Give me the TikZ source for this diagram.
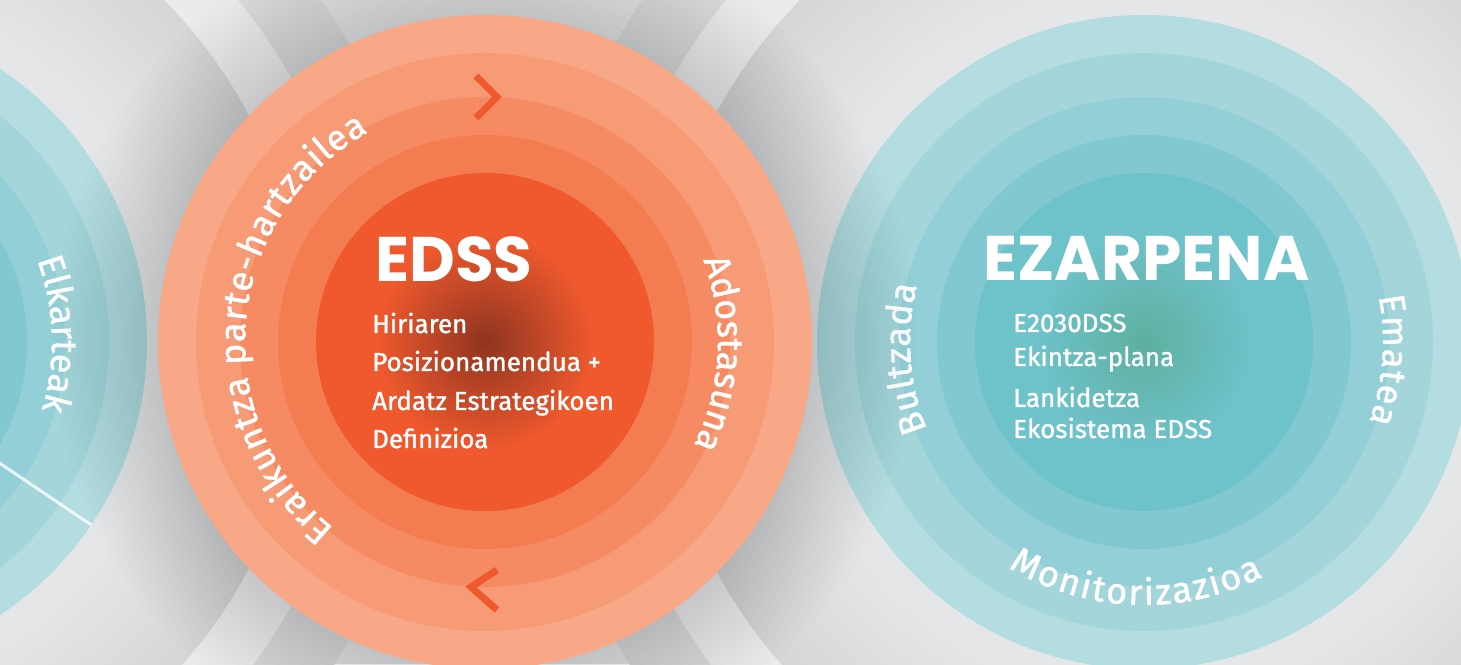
\documentclass[tikz,border=0pt]{standalone}
\usepackage{fontspec}
\setmainfont{Fira Sans}
\newfontfamily\medfont{Fira Sans}[FakeBold=1.2]
\newfontfamily\headfont{Poppins}
\usetikzlibrary{calc,decorations.text}

\definecolor{bggray}{HTML}{E5E6E8}
\definecolor{halodark}{HTML}{DBDCDE}
\definecolor{halolight}{HTML}{EBEBED}
\definecolor{haloshade}{HTML}{D5D6D8}
\definecolor{o1}{HTML}{F8A886}
\definecolor{o2}{HTML}{F79A76}
\definecolor{o3}{HTML}{F68B63}
\definecolor{o4}{HTML}{F47C51}
\definecolor{o5}{HTML}{EF592D}
\definecolor{odark}{HTML}{8E3420}
\definecolor{t1}{HTML}{B3DDE1}
\definecolor{t2}{HTML}{A3D5DB}
\definecolor{t3}{HTML}{93CFD6}
\definecolor{t4}{HTML}{82C8D0}
\definecolor{t5}{HTML}{6EC2CA}
\definecolor{tgreen}{HTML}{5DB09F}

\pgfdeclareradialshading{edsscore}{\pgfpoint{0bp}{0bp}}{color(0bp)=(odark); color(16bp)=(o5); color(25bp)=(o5); color(50bp)=(o5)}
\pgfdeclareradialshading{ezcore}{\pgfpoint{0bp}{0bp}}{color(0bp)=(tgreen); color(16bp)=(t5); color(25bp)=(t5); color(50bp)=(t5)}
\pgfdeclareradialshading{halo}{\pgfpoint{0bp}{0bp}}{color(0bp)=(bggray); color(18bp)=(bggray); color(25bp)=(haloshade); color(50bp)=(haloshade)}

\newcommand\arcfont{\medfont\fontsize{36}{36}\selectfont}

\begin{document}
\begin{tikzpicture}[x=1pt,y=1pt,
  title/.style={text=white,font=\headfont\bfseries\fontsize{63}{63}\selectfont,inner sep=0pt,anchor=base west},
  item/.style={text=white,font=\medfont\fontsize{26}{26}\selectfont,inner sep=0pt,anchor=base west},
  arclabel/.style={decorate,decoration={text along path,text align={fit to path},text color=white,text={#1}}},
  chevron/.style={draw=o5,line width=7pt,line join=miter}]
\useasboundingbox (0,0) rectangle (1461,664);
\clip (0,0) rectangle (1461,664);
\fill[bggray] (0,0) rectangle (1461,664);

\coordinate (L) at (-180,322);
\coordinate (O) at (485,322);
\coordinate (T) at (1144,322);

% halos behind the side circles
\foreach \c in {L,T} {
  \fill[halodark] (\c) circle (607);
  \fill[halolight] (\c) circle (540);
  \shade[shading=halo] (\c) circle (485);
}

% side circles
\foreach \c in {L,T} {
  \foreach \r/\col in {327/t1,289/t2,245/t3,207/t4}
    \fill[\col] (\c) circle (\r);
  \shade[shading=ezcore] (\c) circle (169);
}
\draw[white,opacity=.8,line width=3pt] (L) -- ($(L)+(-34:327)$);

\path[arclabel={|\arcfont|Elkarteak}] ($(L)+(20.7:232)$) arc[start angle=20.7,end angle=-16.5,radius=232];

\node[title] (ezarpena) at (983,383) {EZARPENA};
\node[item] (e2030) at (1013,332) {E2030DSS};
\node[item] (plana) at (1013,298) {Ekintza-plana};
\node[item] (lanki) at (1013,257) {Lankidetza};
\node[item] (ekosis) at (1013,226) {Ekosistema EDSS};
\path[arclabel={|\arcfont|Bultzada}] ($(T)+(202:234)$) arc[start angle=202,end angle=166,radius=234];
\path[arclabel={|\arcfont|Ematea}] ($(T)+(11:239)$) arc[start angle=11,end angle=-19.5,radius=239];
\path[arclabel={|\arcfont|Monitorizazioa}] ($(T)+(239:263)$) arc[start angle=239,end angle=297,radius=263];

% shadow of the middle circle
\foreach \r in {330,336,...,432}
  \fill[black,opacity=.008] (O) circle (\r);

% middle circle
\foreach \r/\col in {327/o1,289/o2,245/o3,207/o4}
  \fill[\col] (O) circle (\r);
\shade[shading=edsscore] (O) circle (169);

\draw[chevron] (476,588) -- (497,567) -- (476,546);
\draw[chevron] (497,94) -- (471,77) -- (497,54);

\node[title] (edss) at (375,382) {EDSS};
\node[item] (hiri) at (372,331) {Hiriaren};
\node[item] (posi) at (372,293) {Posizionamendua +};
\node[item] (ardatz) at (372,254) {Ardatz Estrategikoen};
\node[item] (defin) at (372,216) {Definizioa};
\path[arclabel={|\arcfont|Eraikuntza parte-hartzailea}] ($(O)+(231:240)$) arc[start angle=231,end angle=119,radius=240];
\path[arclabel={|\arcfont|Adostasuna}] ($(O)+(20.6:233)$) arc[start angle=20.6,end angle=-26,radius=233];
\end{tikzpicture}
\end{document}
